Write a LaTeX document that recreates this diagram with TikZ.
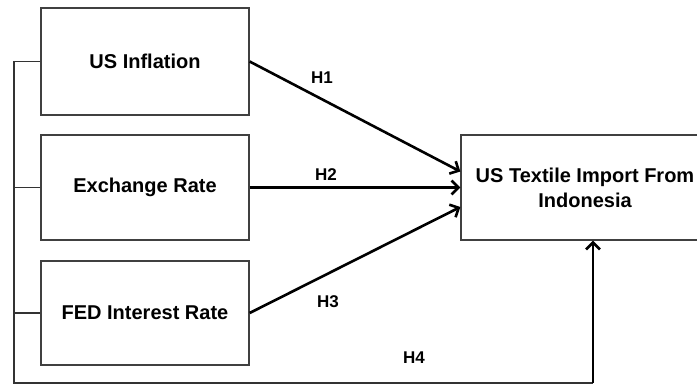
\documentclass[tikz,border=0pt]{standalone}
\usepackage{fontspec}
\setmainfont{Liberation Sans}
\usetikzlibrary{arrows.meta,calc}
\begin{document}
\begin{tikzpicture}[x=1pt,y=-1pt,
  varbox/.style={draw=black!75,line width=1.3pt,rectangle,fill=white,
    font=\fontsize{20}{25}\selectfont\bfseries,align=center,inner sep=0pt},
  path/.style={draw=black,line width=2.6pt,-{Straight Barb[length=7pt,width=14pt]}},
  bus/.style={draw=black!80,line width=1.4pt},
  hyp/.style={font=\fontsize{17}{20}\selectfont\bfseries,inner sep=0pt}]
\useasboundingbox (0,0) rectangle (697,385);
\begin{scope}
\clip (0,0) rectangle (697,385);
% independent variables
\node[varbox,minimum width=208pt,minimum height=107pt] (infl) at (145,61.5) {US Inflation};
\node[varbox,minimum width=208pt,minimum height=105pt] (exch) at (145,187.5) {Exchange Rate};
\node[varbox,minimum width=208pt,minimum height=104pt] (fed) at (145,313) {FED Interest Rate};
% dependent variable
\node[varbox,minimum width=248pt,minimum height=105pt] (imp) at (585,187.5) {US Textile Import From\\Indonesia};

% hypothesised paths
\draw[path] (infl.east) -- ($(imp.west)+(0,-16)$);
\draw[path] (exch.east) -- (imp.west);
\draw[path] (fed.east) -- ($(imp.west)+(0,19.5)$);

% joint effect bus
\coordinate (bustop) at (14,61.5);
\coordinate (busbot) at (14,383);
\coordinate (buscorner) at ($(imp.south)+(8,0)$);
\draw[bus] (infl.west) -- (bustop) -- (busbot) -- (busbot -| buscorner);
\draw[bus] (exch.west) -- (exch.west -| bustop);
\draw[bus] (fed.west) -- (fed.west -| bustop);
\draw[path] (busbot -| buscorner) -- (buscorner);

% labels
\node[hyp] (h1) at (322,78) {H1};
\node[hyp] (h2) at (326,175) {H2};
\node[hyp] (h3) at (328,302) {H3};
\node[hyp] (h4) at (414,358) {H4};
\end{scope}
\end{tikzpicture}
\end{document}
